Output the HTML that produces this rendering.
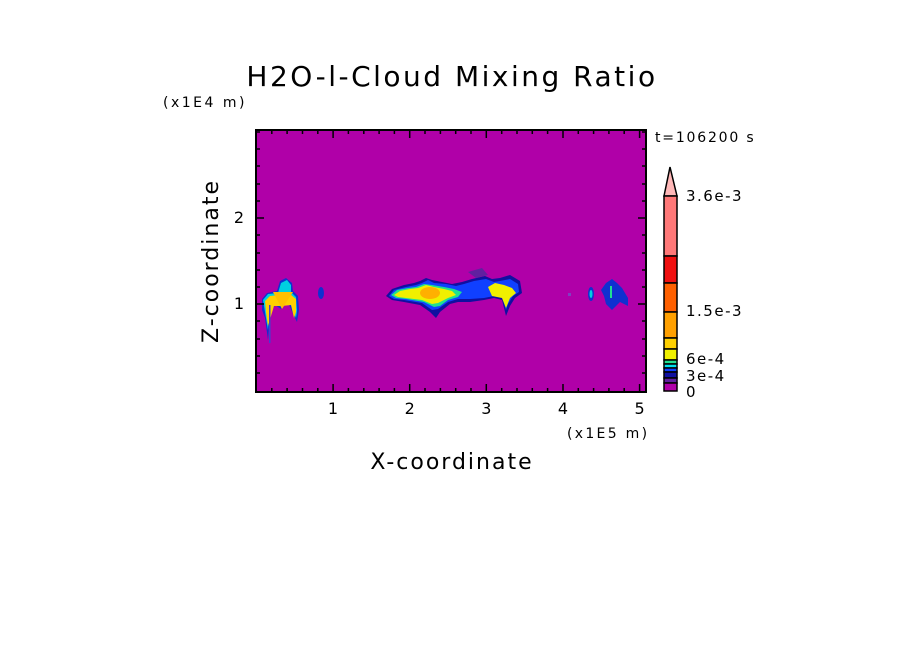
<!DOCTYPE html>
<html><head><style>body{margin:0;background:#fff}svg{display:block}text{font-family:"DejaVu Sans","Liberation Sans",sans-serif}</style></head><body>
<svg width="904" height="654" viewBox="0 0 904 654" xmlns="http://www.w3.org/2000/svg">
<rect width="904" height="654" fill="#fff"/>
<text x="452" y="86" font-size="28" text-anchor="middle" fill="#000" letter-spacing="2.5">H2O-l-Cloud Mixing Ratio</text>
<text x="163" y="107" font-size="14" fill="#000" letter-spacing="2.5">(x1E4 m)</text>
<text x="655" y="142" font-size="14" fill="#000" letter-spacing="1.8">t=106200 s</text>
<rect x="256" y="130" width="390" height="262" fill="#b000a8"/>
<g>
<!-- left cloud -->
<polygon points="262,299 267,293 277,291 280,281 286,278 292,283 293,291 298,296 299,310 297,322 293,314 287,300 281,309 275,305 270,314 268,340 265,318 262,310" fill="#1030d0"/>
<polygon points="263,300 268,294 278,293 281,283 287,280 291,285 291,292 296,297 297,310 296,318 291,305 282,300 270,304 268,330 265,312" fill="#00d0e0"/>
<polygon points="265,301 270,296 290,294 296,299 296,312 294,318 291,305 282,306 274,306 268,326 266,312" fill="#ffd000"/>
<polygon points="273,292 293,292 282,309" fill="#ffc000"/>
<rect x="269" y="305" width="1.5" height="38" fill="#4040d0"/>
<!-- small -->
<ellipse cx="321" cy="293" rx="3" ry="6" fill="#1030d0"/>
<!-- middle cloud -->
<polygon points="386,296 392,289 404,285 414,283 420,281 426,278 432,280 442,282 452,284 462,282 472,279 485,276 492,279 500,278 510,275 520,281 522,293 515,298 510,306 506,316 502,300 494,298 484,300 470,302 458,302 450,304 440,312 436,318 430,312 420,305 404,302 392,300" fill="#1010a0"/>
<polygon points="389,296 394,290 406,287 416,285 422,283 428,280 434,283 446,284 456,286 464,284 474,281 486,279 494,282 500,281 510,279 518,284 519,292 513,296 508,304 506,310 502,297 494,296 484,298 470,299 458,299 448,302 438,309 432,310 422,303 404,300 394,299" fill="#1040ff"/>
<polygon points="391,295 397,290 408,288 416,287 424,284 432,285 444,287 454,289 462,292 458,297 448,300 440,306 434,307 424,302 406,299 396,298" fill="#20e090"/>
<polygon points="394,295 400,291 410,289 418,288 426,285 434,287 444,289 452,291 456,295 448,298 438,303 432,304 422,300 406,298 398,297" fill="#f0f000"/>
<ellipse cx="430" cy="293" rx="10" ry="6" fill="#ffb000"/>
<polygon points="488,287 495,283 504,285 512,288 516,293 510,298 506,308 502,298 492,296" fill="#f0f000"/>
<polygon points="468,272 482,268 488,275 476,278" fill="#6020a0"/>
<!-- right clouds -->
<ellipse cx="591" cy="294" rx="3" ry="7" fill="#1030d0"/>
<ellipse cx="591" cy="294" rx="1.5" ry="4" fill="#00d0e0"/>
<polygon points="601,290 606,283 612,279 617,283 622,288 628,298 628,306 620,302 612,310 606,304 604,296" fill="#1030d0"/>
<rect x="610" y="286" width="2" height="12" fill="#20e090"/>
<rect x="568" y="293" width="3" height="3" fill="#8040c0"/>
</g>
<rect x="256" y="130" width="390" height="262" fill="none" stroke="#000" stroke-width="2"/>
<g stroke="#000" stroke-width="1.5">
<path d="M271.8,392v-4M287.1,392v-4M302.5,392v-4M317.8,392v-4M333.1,392v-8M348.4,392v-4M363.8,392v-4M379.1,392v-4M394.4,392v-4M409.7,392v-8M425,392v-4M440.4,392v-4M455.7,392v-4M471,392v-4M486.3,392v-8M501.7,392v-4M517,392v-4M532.3,392v-4M547.6,392v-4M563,392v-8M578.3,392v-4M593.6,392v-4M608.9,392v-4M624.2,392v-4M639.6,392v-8"/>
<path d="M271.8,130v4M287.1,130v4M302.5,130v4M317.8,130v4M333.1,130v8M348.4,130v4M363.8,130v4M379.1,130v4M394.4,130v4M409.7,130v8M425,130v4M440.4,130v4M455.7,130v4M471,130v4M486.3,130v8M501.7,130v4M517,130v4M532.3,130v4M547.6,130v4M563,130v8M578.3,130v4M593.6,130v4M608.9,130v4M624.2,130v4M639.6,130v8"/>
<path d="M256,373h4M256,356h4M256,339h4M256,321h4M256,304h8M256,287h4M256,270h4M256,253h4M256,235h4M256,218h8M256,201h4M256,184h4M256,166h4M256,149h4M256,132h4"/>
<path d="M646,373h-4M646,356h-4M646,339h-4M646,321h-4M646,304h-8M646,287h-4M646,270h-4M646,253h-4M646,235h-4M646,218h-8M646,201h-4M646,184h-4M646,166h-4M646,149h-4M646,132h-4"/>
</g>
<g font-size="16" fill="#000" text-anchor="middle">
<text x="333" y="414">1</text><text x="409.7" y="414">2</text><text x="486.3" y="414">3</text><text x="563" y="414">4</text><text x="639.6" y="414">5</text>
<text x="239" y="309">1</text><text x="239" y="223">2</text>
</g>
<text x="567" y="438" font-size="14" fill="#000" letter-spacing="2.3">(x1E5 m)</text>
<text x="452" y="469" font-size="22" text-anchor="middle" fill="#000" letter-spacing="2">X-coordinate</text>
<text transform="translate(218,261) rotate(-90)" font-size="22" text-anchor="middle" fill="#000" letter-spacing="2">Z-coordinate</text>
<!-- colorbar -->
<g stroke="#000" stroke-width="1.5">
<polygon points="664,196 670,167 677,196" fill="#ffb8b8"/>
<rect x="664" y="196" width="13" height="60" fill="#ff7878"/>
<rect x="664" y="256" width="13" height="27" fill="#f01010"/>
<rect x="664" y="283" width="13" height="29" fill="#ff6000"/>
<rect x="664" y="312" width="13" height="26" fill="#ffa000"/>
<rect x="664" y="338" width="13" height="11" fill="#ffd000"/>
<rect x="664" y="349" width="13" height="11" fill="#f0f000"/>
<rect x="664" y="360" width="13" height="4" fill="#20e090"/>
<rect x="664" y="364" width="13" height="4" fill="#00e0f0"/>
<rect x="664" y="368" width="13" height="4" fill="#1040ff"/>
<rect x="664" y="372" width="13" height="6" fill="#1010a0"/>
<rect x="664" y="378" width="13" height="5" fill="#6020a0"/>
<rect x="664" y="383" width="13" height="8" fill="#b000a8"/>
</g>
<g font-size="15" fill="#000" letter-spacing="1.5">
<text x="686" y="201">3.6e-3</text>
<text x="686" y="316">1.5e-3</text>
<text x="686" y="364">6e-4</text>
<text x="686" y="381">3e-4</text>
<text x="686" y="397">0</text>
</g>
</svg>
</body></html>
